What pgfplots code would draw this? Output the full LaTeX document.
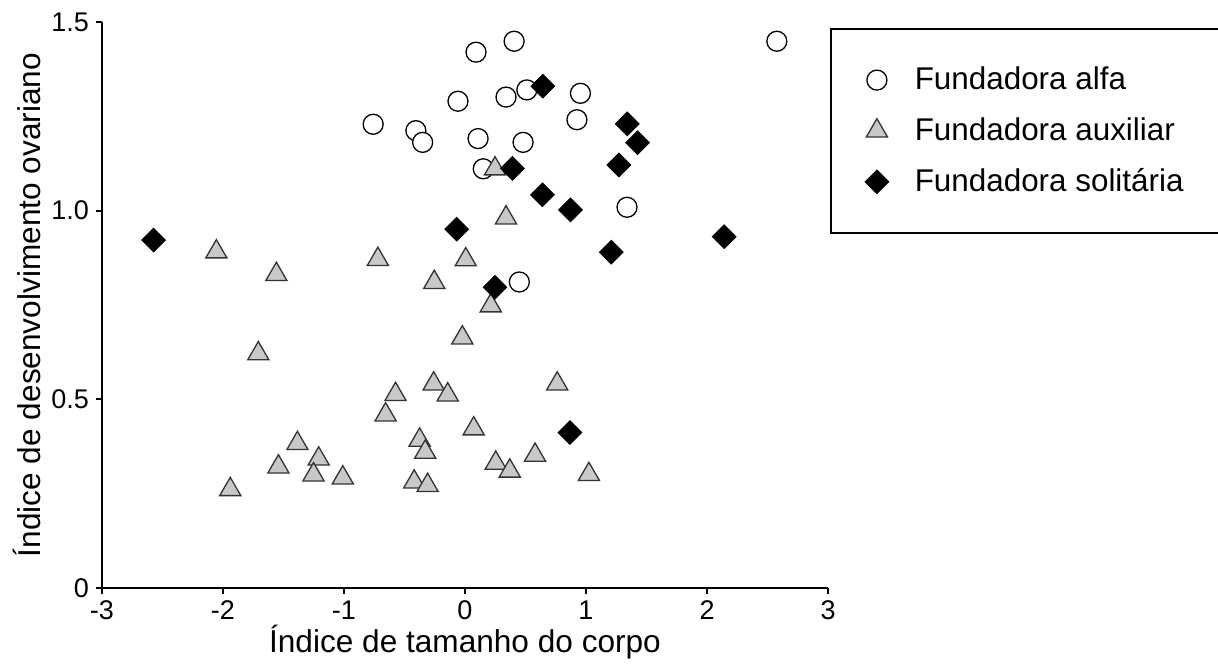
\documentclass[border=0pt]{standalone}
\usepackage{fontspec}
\setmainfont{Liberation Sans}
\usepackage{pgfplots}
\pgfplotsset{compat=1.18}
\definecolor{trifill}{HTML}{C8C8C8}
\definecolor{triedge}{HTML}{333333}
\begin{document}
\begin{tikzpicture}
\begin{axis}[
  scale only axis,
  width=363pt, height=283pt,
  at={(0,0)}, anchor=south west,
  xmin=-3, xmax=3, ymin=0, ymax=1.5,
  axis lines=left,
  axis line style={-, line width=1pt, black},
  clip=false,
  xtick={-3,-2,-1,0,1,2,3},
  xticklabels={-3,-2,-1,0,1,2,3},
  ytick={0,0.5,1,1.5},
  yticklabels={0,0.5,1.0,1.5},
  tick align=outside,
  major tick length=3pt,
  tick style={line width=1pt, black},
  tick label style={font=\fontsize{13.5}{16}\selectfont},
  xlabel={Índice de tamanho do corpo},
  ylabel={Índice de desenvolvimento ovariano},
  label style={font=\fontsize{15.8}{19}\selectfont},
  xlabel style={at={(axis description cs:0.5,-0.1148)}, anchor=base},
  ylabel style={at={(axis description cs:-0.1033,0.5)}, anchor=center},
  legend style={at={(1.0028,0.989)}, anchor=north west, draw=black, line width=1pt,
    font=\fontsize{15.7}{19}\selectfont, inner xsep=17pt, inner ysep=17pt,
    row sep=8.5pt, column sep=11pt},
  legend cell align=left,
]
\addplot[only marks, mark=*, mark size=5pt, mark options={draw=black, fill=white, line width=0.65pt}]
coordinates {
(-0.759,1.229) (-0.406,1.212) (-0.350,1.181) (-0.058,1.290) (0.091,1.420)
(0.108,1.191) (0.151,1.111) (0.339,1.301) (0.406,1.449) (0.511,1.320)
(0.480,1.181) (0.954,1.311) (0.925,1.241) (1.339,1.009) (0.449,0.811)
(2.577,1.449)
};
\addlegendentry{Fundadora alfa}
\addplot[only marks, mark=triangle*, mark size=6.1pt, mark options={draw=triedge, fill=trifill, line width=0.65pt}]
coordinates {
(-2.055,0.891) (-1.559,0.831) (-0.720,0.871) (0.248,1.111) (0.339,0.981)
(0.006,0.870) (-0.254,0.810) (0.213,0.748) (-0.022,0.663) (-1.708,0.621)
(-0.259,0.541) (-0.143,0.512) (0.762,0.541) (-0.574,0.513) (-0.656,0.459)
(-1.385,0.383) (-1.209,0.342) (-1.542,0.321) (-1.252,0.300) (-1.010,0.292)
(-1.940,0.261) (-0.375,0.392) (-0.329,0.360) (0.072,0.422) (0.579,0.352)
(0.254,0.331) (0.370,0.310) (1.024,0.301) (-0.420,0.281) (-0.309,0.272)
};
\addlegendentry{Fundadora auxiliar}
\addplot[only marks, mark=square*, mark size=4.2pt, mark options={draw=black, fill=black, rotate=45, line width=0.4pt}]
coordinates {
(-2.574,0.922) (0.643,1.330) (1.341,1.230) (1.426,1.180) (1.272,1.121)
(0.392,1.112) (0.640,1.042) (0.872,1.002) (-0.069,0.951) (1.209,0.890)
(2.142,0.931) (0.248,0.797) (0.867,0.412)
};
\addlegendentry{Fundadora solitária}
\end{axis}
\pgfresetboundingbox
\path (-51pt,-38pt) rectangle (558pt,294pt);
\end{tikzpicture}
\end{document}
